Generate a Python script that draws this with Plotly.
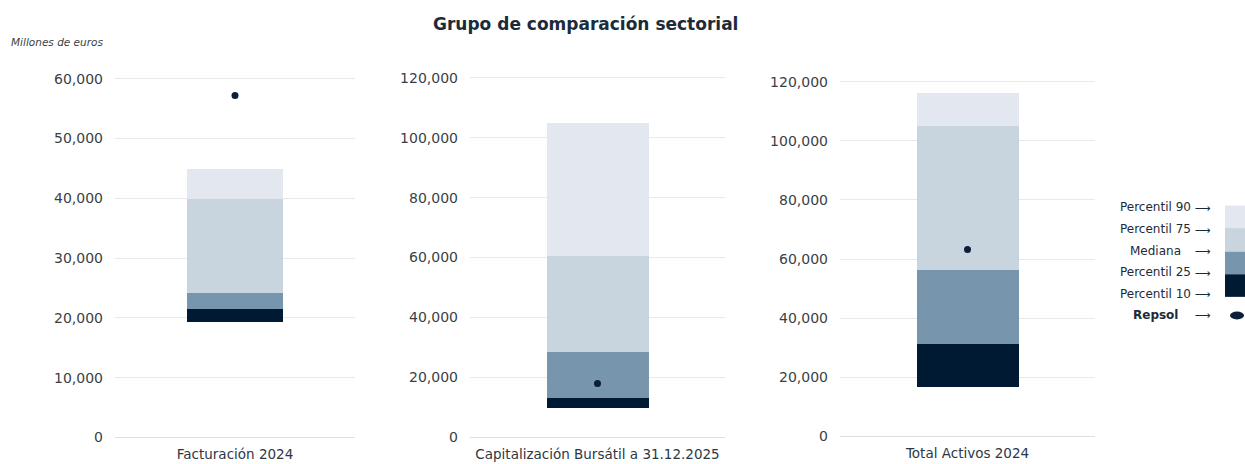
import plotly.graph_objects as go

# ---------------- data ----------------
categories = ["Facturación 2024", "Capitalización Bursátil a 31.12.2025", "Total Activos 2024"]
p10 = [19300, 9800, 16800]
p25 = [21500, 13200, 31300]
median = [24200, 28500, 56400]
p75 = [39800, 60500, 105000]
p90 = [44900, 105000, 116200]
repsol = [57200, 18000, 63200]
y_max = [60000, 120000, 120000]
y_step = [10000, 20000, 20000]

legend_labels = ["Percentil 90", "Percentil 75", "Mediana", "Percentil 25", "Percentil 10", "Repsol"]

# ---------------- style ----------------
W, H = 1245, 464
C_P90 = "#e3e8f0"
C_P75 = "#c8d5df"
C_MED = "#7795ad"
C_P25 = "#001a33"
C_DOT = "#0c1e38"
GRID = "#e6eaef"
ZERO = "#dcdfe3"
FONT = "DejaVu Sans"
TICK_COLOR = "#3a3f47"
LABEL_COLOR = "#2c3844"

# pixel geometry of each panel: (x_left, x_right, y_of_zero, y_of_max)
panels_px = [(115, 355, 441, 76), (470, 725, 441, 75), (840, 1095, 440, 79)]
PAD = 0.01  # fraction of range padding so edge gridlines show

fig = go.Figure()

segments = [
    (p10, p25, C_P25),
    (p25, median, C_MED),
    (median, p75, C_P75),
    (p75, p90, C_P90),
]

for i, cat in enumerate(categories):
    xa = "x" if i == 0 else f"x{i+1}"
    ya = "y" if i == 0 else f"y{i+1}"
    for lo, hi, col in segments:
        fig.add_trace(go.Bar(
            x=[cat], y=[hi[i] - lo[i]], base=[lo[i]],
            marker=dict(color=col, line=dict(width=0)),
            width=0.4, xaxis=xa, yaxis=ya, showlegend=False,
            hoverinfo="skip",
        ))
    fig.add_trace(go.Scatter(
        x=[cat], y=[repsol[i]], mode="markers",
        marker=dict(color=C_DOT, size=7),
        xaxis=xa, yaxis=ya, showlegend=False, hoverinfo="skip",
    ))

    xl, xr, y0, ym = panels_px[i]
    pad_units = y_max[i] * PAD
    px_per_unit = (y0 - ym) / y_max[i]
    bottom_px = y0 + pad_units * px_per_unit
    top_px = ym - pad_units * px_per_unit
    xdom = [xl / W, xr / W]
    ydom = [1 - bottom_px / H, 1 - top_px / H]
    sfx = "" if i == 0 else str(i + 1)
    fig.layout["xaxis" + sfx] = dict(
        domain=xdom, anchor=ya, range=[-0.5, 0.5], showgrid=False, zeroline=False,
        showline=False, ticks="", ticklabelstandoff=4,
        tickfont=dict(family=FONT, size=13.5, color=LABEL_COLOR), fixedrange=True,
    )
    fig.layout["yaxis" + sfx] = dict(
        domain=ydom, anchor=xa, range=[-pad_units, y_max[i] + pad_units],
        tick0=0, dtick=y_step[i], tickformat=",", showgrid=True, gridcolor=GRID,
        gridwidth=1, zeroline=True, zerolinecolor=ZERO, zerolinewidth=1,
        showline=False, ticks="", ticklabelstandoff=11,
        tickfont=dict(family=FONT, size=14, color=TICK_COLOR), fixedrange=True,
    )

annotations = [
    dict(text="<b>Grupo de comparación sectorial</b>", x=585 / W, y=1 - 20 / H,
         xref="paper", yref="paper", showarrow=False, xanchor="center", yanchor="middle",
         font=dict(family=FONT, size=17, color="#1c2b3a")),
    dict(text="<i>Millones de euros</i>", x=9 / W, y=1 - 39 / H,
         xref="paper", yref="paper", showarrow=False, xanchor="left", yanchor="middle",
         font=dict(family=FONT, size=10.5, color="#3a3f47")),
]

# ---------------- custom legend ----------------
legend_text_y = [207, 229, 251, 273, 295, 316]
for lab, ty in zip(legend_labels, legend_text_y):
    txt = f"<b>{lab}</b>" if lab == "Repsol" else lab
    annotations.append(dict(
        text=txt, x=1155 / W, y=1 - ty / H, xref="paper", yref="paper",
        showarrow=False, xanchor="center", yanchor="middle",
        font=dict(family=FONT, size=12, color="#1c2b3a")))
    annotations.append(dict(
        text="⟶", x=1203 / W, y=1 - (ty + 1) / H, xref="paper", yref="paper",
        showarrow=False, xanchor="center", yanchor="middle",
        font=dict(family=FONT, size=11, color="#1c2b3a")))

shapes = []
box = [(205, 228, C_P90), (228, 252, C_P75), (252, 275, C_MED), (275, 298, C_P25)]
for t, b, col in box:
    shapes.append(dict(type="rect", xref="paper", yref="paper",
                       x0=1225 / W, x1=1.0, y0=1 - b / H, y1=1 - t / H,
                       fillcolor=col, line=dict(width=0), layer="above"))
shapes.append(dict(type="circle", xref="paper", yref="paper",
                   x0=1230 / W, x1=1244 / W, y0=1 - 321 / H, y1=1 - 313 / H,
                   fillcolor=C_DOT, line=dict(width=0)))

fig.update_layout(
    width=W, height=H, autosize=False,
    margin=dict(l=0, r=0, t=0, b=0),
    paper_bgcolor="white", plot_bgcolor="white",
    barmode="overlay", bargap=0,
    annotations=annotations, shapes=shapes,
    font=dict(family=FONT),
)

fig.write_html(
    "out.html",
    config={"displayModeBar": False},
    post_script="document.body.style.margin='0';document.body.style.overflow='hidden';",
)
